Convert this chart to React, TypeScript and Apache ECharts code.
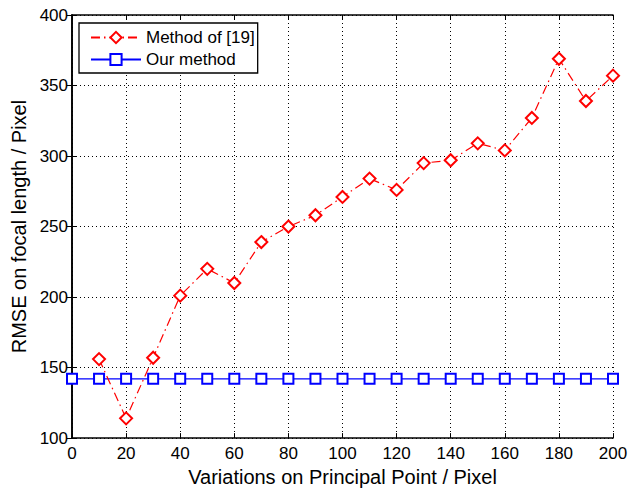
import React, { useEffect, useRef } from "react";
import * as echarts from "echarts";

const xValues = [0, 10, 20, 30, 40, 50, 60, 70, 80, 90, 100, 110, 120, 130, 140, 150, 160, 170, 180, 190, 200];
const methodOf19 = [null, 156, 114, 157, 201, 220, 210, 239, 250, 258, 271, 284, 276, 295, 297, 309, 304, 327, 369, 339, 357];
const ourMethod = [142, 142, 142, 142, 142, 142, 142, 142, 142, 142, 142, 142, 142, 142, 142, 142, 142, 142, 142, 142, 142];
const seriesNames = ["Method of [19]", "Our method"];
const xTitle = "Variations on Principal Point / Pixel";
const yTitle = "RMSE on focal length / Pixel";

const FONT = "Liberation Sans, Arial, Helvetica, sans-serif";

export default function App() {
  const ref = useRef<HTMLDivElement>(null);
  useEffect(() => {
    if (!ref.current) return;
    const chart = echarts.init(ref.current, null, { renderer: "svg" });
    const pairs = (ys: (number | null)[]) =>
      xValues.map((x, i) => [x, ys[i]]).filter((p) => p[1] !== null);
    const tick = { show: true, inside: true, length: 5, lineStyle: { color: "#000", width: 1 } };
    const frame = { show: true, lineStyle: { color: "#000", width: 1.6 } };
    chart.setOption({
      animation: false,
      backgroundColor: "#fff",
      textStyle: { fontFamily: FONT },
      grid: { left: 72, right: 28, top: 15, bottom: 51, show: false },
      legend: {
        left: 79,
        top: 23,
        orient: "vertical",
        backgroundColor: "#fff",
        borderColor: "#000",
        borderWidth: 1.3,
        borderRadius: 0,
        padding: [6, 3, 5, 11],
        itemWidth: 50,
        itemHeight: 14,
        itemGap: 5,
        textStyle: { fontSize: 17, color: "#000", fontFamily: FONT },
        data: seriesNames,
      },
      xAxis: [
        {
          type: "value",
          min: 0,
          max: 200,
          interval: 20,
          name: xTitle,
          nameLocation: "middle",
          nameGap: 27,
          nameTextStyle: { fontSize: 20, color: "#000", fontFamily: FONT },
          axisLine: frame,
          axisTick: tick,
          axisLabel: { fontSize: 17, color: "#000", margin: 7, fontFamily: FONT },
          splitLine: { show: true, lineStyle: { color: "#000", type: [1, 3], width: 1 } },
        },
        {
          type: "value",
          position: "top",
          min: 0,
          max: 200,
          interval: 20,
          axisLine: frame,
          axisTick: tick,
          axisLabel: { show: false },
          splitLine: { show: false },
        },
      ],
      yAxis: [
        {
          type: "value",
          min: 100,
          max: 400,
          interval: 50,
          name: yTitle,
          nameLocation: "middle",
          nameGap: 40,
          nameTextStyle: { fontSize: 20, color: "#000", fontFamily: FONT },
          axisLine: frame,
          axisTick: tick,
          axisLabel: { fontSize: 17, color: "#000", margin: 4, fontFamily: FONT },
          splitLine: { show: true, lineStyle: { color: "#000", type: [1, 3], width: 1 } },
        },
        {
          type: "value",
          position: "right",
          min: 100,
          max: 400,
          interval: 50,
          axisLine: frame,
          axisTick: tick,
          axisLabel: { show: false },
          splitLine: { show: false },
        },
      ],
      series: [
        {
          name: seriesNames[0],
          type: "line",
          data: pairs(methodOf19),
          symbol: "emptyDiamond",
          symbolSize: 12,
          color: "#ff0000",
          lineStyle: { color: "#ff0000", width: 1.2, type: [9, 4, 1.5, 4] },
          itemStyle: { color: "#ff0000", borderWidth: 1.5 },
          z: 3,
        },
        {
          name: seriesNames[1],
          type: "line",
          data: pairs(ourMethod),
          symbol: "emptyRect",
          symbolSize: 10,
          color: "#0000ff",
          lineStyle: { color: "#0000ff", width: 1.2 },
          itemStyle: { color: "#0000ff", borderWidth: 1.5 },
          z: 2,
        },
      ],
    });
    return () => chart.dispose();
  }, []);
  return <div ref={ref} style={{ width: 641, height: 492, position: "absolute", left: 0, top: 0 }} />;
}
